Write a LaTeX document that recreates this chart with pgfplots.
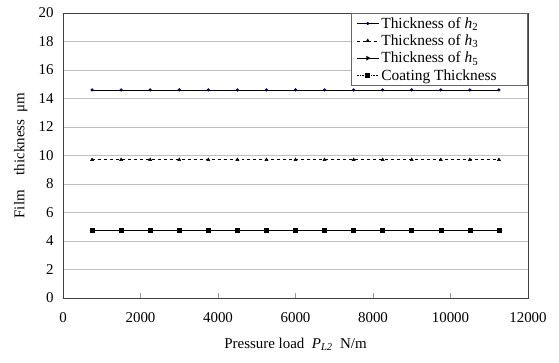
\documentclass[border=0pt]{standalone}
\usepackage{pgfplots}
\pgfplotsset{compat=1.18}
\usepackage{fontspec}
\setmainfont{Liberation Serif}
\definecolor{navyd}{RGB}{0,0,90}
\begin{document}
\begin{tikzpicture}
\begin{axis}[
  scale only axis,
  width=465bp, height=285bp,
  xmin=0, xmax=12000, ymin=0, ymax=20,
  xtick={0,2000,...,12000},
  ytick={0,2,...,20},
  scaled x ticks=false,
  /pgf/number format/assume math mode=true,
  /pgf/number format/1000 sep={},
  ticklabel style={font=\fontsize{15}{17}\selectfont},
  xticklabel style={yshift=-11bp},
  yticklabel style={xshift=-6bp},
  xtick pos=bottom,
  ytick style={draw=none},
  xtick style={black!40, line width=0.8pt},
  major tick length=5bp,
  ymajorgrids,
  grid style={black!25, line width=0.9pt},
  axis line style={black!75, line width=0.9pt},
  xlabel={Pressure load\enspace\textit{P}\textsubscript{\textit{L2}}\enspace N/m},
  ylabel={Film\quad thickness\enspace μm},
  label style={font=\fontsize{15}{17}\selectfont},
  xlabel style={yshift=-9bp},
  ylabel style={yshift=4bp},
  legend style={at={(1,1)}, anchor=north east, draw=black!60, line width=0.6pt,
    font=\fontsize{15.5}{16}\selectfont, row sep=1bp, inner xsep=5bp, inner ysep=2bp,
    cells={anchor=west}, fill=white},
  legend image code/.code={\draw[#1] (0bp,0bp) -- (11bp,0bp) plot coordinates {(11bp,0bp)} -- (22bp,0bp);},
]
\addplot[black, line width=0.6pt, mark=*, mark size=1.3pt, mark options={navyd, fill=navyd}] coordinates {
(750,14.6)(1500,14.6)(2250,14.6)(3000,14.6)(3750,14.6)(4500,14.6)(5250,14.6)(6000,14.6)(6750,14.6)(7500,14.6)(8250,14.6)(9000,14.6)(9750,14.6)(10500,14.6)(11250,14.6)};
\addlegendentry{Thickness of \textit{h}\textsubscript{2}}
\addplot[black, line width=0.6pt, dashed, mark=triangle*, mark size=1.7pt, mark options={solid}] coordinates {
(750,9.7)(1500,9.7)(2250,9.7)(3000,9.7)(3750,9.7)(4500,9.7)(5250,9.7)(6000,9.7)(6750,9.7)(7500,9.7)(8250,9.7)(9000,9.7)(9750,9.7)(10500,9.7)(11250,9.7)};
\addlegendentry{Thickness of \textit{h}\textsubscript{3}}
\addplot[black, line width=1.2pt, mark=triangle*, mark size=1.6pt, mark options={solid, rotate=-90}] coordinates {
(750,4.72)(1500,4.72)(2250,4.72)(3000,4.72)(3750,4.72)(4500,4.72)(5250,4.72)(6000,4.72)(6750,4.72)(7500,4.72)(8250,4.72)(9000,4.72)(9750,4.72)(10500,4.72)(11250,4.72)};
\addlegendentry{Thickness of \textit{h}\textsubscript{5}}
\addplot[black, line width=0.6pt, densely dotted, mark=square*, mark size=2pt, mark options={solid}] coordinates {
(750,4.75)(1500,4.75)(2250,4.75)(3000,4.75)(3750,4.75)(4500,4.75)(5250,4.75)(6000,4.75)(6750,4.75)(7500,4.75)(8250,4.75)(9000,4.75)(9750,4.75)(10500,4.75)(11250,4.75)};
\addlegendentry{Coating Thickness\hspace*{24bp}}
\end{axis}
\path (current axis.south west) ++(-63bp,-65bp) coordinate (bl);
\path (current axis.north east) ++(31bp,13bp) coordinate (tr);
\useasboundingbox (bl) rectangle (tr);
\end{tikzpicture}
\end{document}
